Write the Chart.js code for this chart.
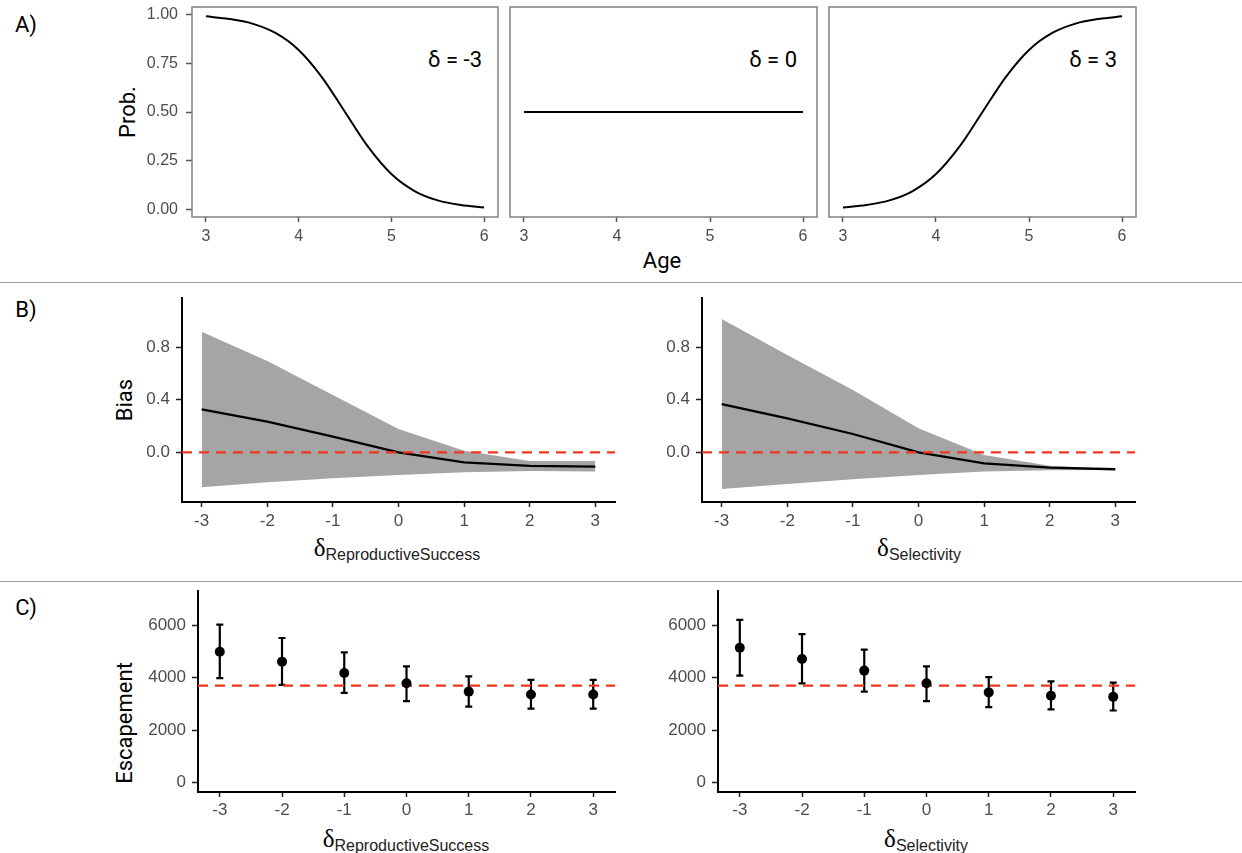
<!DOCTYPE html>
<html>
<head>
<meta charset="utf-8">
<script src="https://cdn.jsdelivr.net/npm/chart.js@4.4.0/dist/chart.umd.min.js"></script>
<style>
  body { margin: 0; width: 1242px; height: 853px; background: #fff; position: relative; overflow: hidden; font-family: Roboto, sans-serif; }
  canvas { position: absolute; }
  .lbl { position: absolute; color: #000; white-space: nowrap; line-height: 1; transform: translate(-50%, -50%); }
  .rot { transform: translate(-50%, -50%) rotate(-90deg); }
  .right { transform: translate(-100%, -50%); }
  .sep { position: absolute; left: 0; width: 1242px; height: 0; border-top: 1.5px solid #9a9a9a; }
  .d { font-family: "Liberation Serif", serif; font-size: 25px; }
  .sub { font-family: "Liberation Sans", sans-serif; font-size: 16px; position: relative; top: 4px; color: #222; }
</style>
</head>
<body>
<div class="sep" style="top:282px"></div>
<div class="sep" style="top:581px"></div>

<div class="lbl" style="left:26px;top:25px;font-size:22px">A)</div>
<div class="lbl" style="left:26px;top:310px;font-size:22px">B)</div>
<div class="lbl" style="left:26px;top:608px;font-size:22px">C)</div>

<div class="lbl rot" style="left:128px;top:112px;font-size:22px">Prob.</div>
<div class="lbl" style="left:662px;top:261px;font-size:22px">Age</div>
<div class="lbl right" style="left:482px;top:60px;font-size:22px">δ = -3</div>
<div class="lbl right" style="left:797px;top:60px;font-size:22px">δ = 0</div>
<div class="lbl right" style="left:1117px;top:60px;font-size:22px">δ = 3</div>

<div class="lbl rot" style="left:125px;top:400px;font-size:22px">Bias</div>
<div class="lbl" style="left:397px;top:547px"><span class="d">δ</span><span class="sub">ReproductiveSuccess</span></div>
<div class="lbl" style="left:919px;top:547px"><span class="d">δ</span><span class="sub">Selectivity</span></div>

<div class="lbl rot" style="left:125px;top:723px;font-size:22px">Escapement</div>
<div class="lbl" style="left:406px;top:838px"><span class="d">δ</span><span class="sub">ReproductiveSuccess</span></div>
<div class="lbl" style="left:926px;top:838px"><span class="d">δ</span><span class="sub">Selectivity</span></div>

<script>
// A) selection probability by age
const ages = [3, 3.25, 3.5, 3.75, 4, 4.25, 4.5, 4.75, 5, 5.25, 5.5, 5.75, 6];
const probNeg = [0.99, 0.977, 0.953, 0.905, 0.818, 0.679, 0.5, 0.321, 0.182, 0.095, 0.047, 0.023, 0.011];
const probZero = [0.5, 0.5, 0.5, 0.5, 0.5, 0.5, 0.5, 0.5, 0.5, 0.5, 0.5, 0.5, 0.5];
const probPos = [0.011, 0.023, 0.047, 0.095, 0.182, 0.321, 0.5, 0.679, 0.818, 0.905, 0.953, 0.977, 0.99];
const ageTicks = [3, 4, 5, 6];
const probTicks = [0, 0.25, 0.5, 0.75, 1];

// B) bias
const deltas = [-3, -2, -1, 0, 1, 2, 3];
const biasRS = [0.327, 0.233, 0.119, 0, -0.076, -0.104, -0.109];
const biasRSHi = [0.917, 0.694, 0.435, 0.177, 0.012, -0.066, -0.066];
const biasRSLo = [-0.266, -0.228, -0.198, -0.172, -0.152, -0.142, -0.147];
const biasSel = [0.367, 0.258, 0.139, 0, -0.084, -0.117, -0.129];
const biasSelHi = [1.013, 0.739, 0.473, 0.182, -0.021, -0.102, -0.129];
const biasSelLo = [-0.279, -0.241, -0.205, -0.172, -0.147, -0.137, -0.134];
const biasTicks = [0, 0.4, 0.8];
const biasRef = 0;

// C) escapement
const escRS = [4990, 4610, 4180, 3790, 3470, 3360, 3360];
const escRSHi = [6020, 5510, 4960, 4430, 4050, 3920, 3920];
const escRSLo = [3980, 3730, 3420, 3110, 2900, 2820, 2820];
const escSel = [5140, 4710, 4270, 3790, 3440, 3310, 3270];
const escSelHi = [6200, 5660, 5070, 4430, 4020, 3860, 3810];
const escSelLo = [4080, 3780, 3470, 3110, 2880, 2790, 2750];
const escTicks = [0, 2000, 4000, 6000];
const escRef = 3700;

const tickFontA = { family: 'Liberation Sans', size: 16 };
const tickFont = { family: 'Liberation Sans', size: 17 };
const tickGray = '#4d4d4d';
const red = '#f2361c';

function pts(xs, ys) {
  return xs.map((x, i) => ({ x: x, y: ys[i] }));
}

function axis(range, ticks, o) {
  return {
    type: 'linear',
    display: o.display !== false,
    min: range[0],
    max: range[1],
    afterBuildTicks: s => { s.ticks = ticks.map(v => ({ value: v })); },
    ticks: { font: o.font || tickFont, color: tickGray, padding: o.pad, callback: o.fmt || (v => String(v)), maxRotation: 0, autoSkip: false },
    grid: { display: true, drawOnChartArea: false, drawTicks: true, tickLength: o.tickLen, tickColor: o.tickColor, tickWidth: o.tickWidth },
    border: { display: o.border, color: '#000', width: 2 },
    afterFit: s => {
      if (o.horiz) s.height = o.size; else s.width = o.size;
      s.paddingTop = 0; s.paddingBottom = 0; s.paddingLeft = 0; s.paddingRight = 0;
    }
  };
}

// area: plot rectangle in page pixels; yW / xH: space for the axes
function makeChart(area, yW, xH, pad, datasets, scales, plugins) {
  const c = document.createElement('canvas');
  c.width = area.R - area.L + yW + pad.l + pad.r;
  c.height = area.B - area.T + xH + pad.t;
  c.style.left = (area.L - yW - pad.l) + 'px';
  c.style.top = (area.T - pad.t) + 'px';
  document.body.appendChild(c);
  return new Chart(c, {
    type: 'line',
    data: { datasets: datasets },
    options: {
      responsive: false,
      animation: false,
      devicePixelRatio: 1,
      layout: { padding: { left: pad.l, right: pad.r, top: pad.t, bottom: 0 } },
      plugins: { legend: { display: false }, tooltip: { enabled: false } },
      scales: scales
    },
    plugins: plugins || []
  });
}

const boxPlugin = {
  id: 'panelBox',
  afterDraw(chart) {
    const a = chart.chartArea, ctx = chart.ctx;
    ctx.save();
    ctx.strokeStyle = '#808080';
    ctx.lineWidth = 1.5;
    ctx.strokeRect(a.left, a.top, a.right - a.left, a.bottom - a.top);
    ctx.restore();
  }
};

function errorBars(xs, lo, hi) {
  return {
    id: 'errorBars',
    beforeDatasetsDraw(chart) {
      const sx = chart.scales.x, sy = chart.scales.y, ctx = chart.ctx;
      ctx.save();
      ctx.strokeStyle = '#000';
      ctx.lineWidth = 2.2;
      xs.forEach((v, i) => {
        const px = sx.getPixelForValue(v);
        const top = sy.getPixelForValue(hi[i]);
        const bot = sy.getPixelForValue(lo[i]);
        ctx.beginPath();
        ctx.moveTo(px, top); ctx.lineTo(px, bot);
        ctx.moveTo(px - 3.5, top); ctx.lineTo(px + 3.5, top);
        ctx.moveTo(px - 3.5, bot); ctx.lineTo(px + 3.5, bot);
        ctx.stroke();
      });
      ctx.restore();
    }
  };
}

// ---- panel A ----
const ageRange = [2.85, 6.15];
const probRange = [-0.038, 1.038];
const aX = axis(ageRange, ageTicks, { font: tickFontA, horiz: true, size: 40, pad: 5, tickLen: 5, tickColor: '#555', tickWidth: 1.5, border: false });

function curve(ys) {
  return {
    data: pts(ages, ys), borderColor: '#000', borderWidth: 2, pointRadius: 0,
    cubicInterpolationMode: 'monotone', fill: false
  };
}

makeChart({ L: 192, T: 7, R: 498, B: 217 }, 70, 40, { l: 0, r: 6, t: 4 },
  [curve(probNeg)],
  {
    x: aX,
    y: axis(probRange, probTicks, { font: tickFontA, size: 70, pad: 8, tickLen: 6, tickColor: '#555', tickWidth: 1.5, border: false, fmt: v => v.toFixed(2) })
  }, [boxPlugin]);

makeChart({ L: 510, T: 7, R: 817, B: 217 }, 0, 40, { l: 4, r: 6, t: 4 },
  [curve(probZero)],
  { x: aX, y: axis(probRange, probTicks, { display: false, size: 0, pad: 0, tickLen: 0, border: false }) },
  [boxPlugin]);

makeChart({ L: 829, T: 7, R: 1136, B: 217 }, 0, 40, { l: 4, r: 6, t: 4 },
  [curve(probPos)],
  { x: aX, y: axis(probRange, probTicks, { display: false, size: 0, pad: 0, tickLen: 0, border: false }) },
  [boxPlugin]);

// ---- panel B ----
const deltaRangeB = [-3.3, 3.3];
const biasRange = [-0.378, 1.173];

function biasSets(mean, lo, hi) {
  return [
    { data: pts(deltas, hi), borderColor: 'rgba(0,0,0,0)', borderWidth: 0, pointRadius: 0, tension: 0,
      fill: '+1', backgroundColor: '#a5a5a5', order: 3 },
    { data: pts(deltas, lo), borderColor: 'rgba(0,0,0,0)', borderWidth: 0, pointRadius: 0, tension: 0, fill: false, order: 2 },
    { data: pts(deltas, mean), borderColor: '#000', borderWidth: 2.3, pointRadius: 0, tension: 0, fill: false, order: 1 },
    { data: pts(deltaRangeB, [biasRef, biasRef]), borderColor: red, borderWidth: 2.2, borderDash: [10, 7],
      pointRadius: 0, fill: false, order: 0 }
  ];
}

function bScales() {
  return {
    x: axis(deltaRangeB, deltas, { horiz: true, size: 40, pad: 4, tickLen: 5, tickColor: '#222', tickWidth: 1.5, border: true }),
    y: axis(biasRange, biasTicks, { size: 70, pad: 6, tickLen: 6, tickColor: '#222', tickWidth: 1.5, border: true, fmt: v => v.toFixed(1) })
  };
}

makeChart({ L: 182, T: 298, R: 615, B: 502 }, 70, 40, { l: 0, r: 6, t: 4 }, biasSets(biasRS, biasRSLo, biasRSHi), bScales());
makeChart({ L: 702, T: 298, R: 1135, B: 502 }, 70, 40, { l: 0, r: 6, t: 4 }, biasSets(biasSel, biasSelLo, biasSelHi), bScales());

// ---- panel C ----
const deltaRangeC = [-3.35, 3.35];
const escRange = [-352, 7300];

function escSets(mean) {
  return [
    { data: pts(deltas, mean), showLine: false, pointRadius: 5, pointBackgroundColor: '#000',
      pointBorderWidth: 0, borderColor: '#000', order: 0 },
    { data: pts(deltaRangeC, [escRef, escRef]), borderColor: red, borderWidth: 2.2, borderDash: [10, 7],
      pointRadius: 0, fill: false, order: 1 }
  ];
}

function cScales() {
  return {
    x: axis(deltaRangeC, deltas, { horiz: true, size: 40, pad: 3, tickLen: 5, tickColor: '#222', tickWidth: 1.5, border: true }),
    y: axis(escRange, escTicks, { size: 70, pad: 6, tickLen: 6, tickColor: '#222', tickWidth: 1.5, border: true })
  };
}

makeChart({ L: 198, T: 590, R: 615, B: 792 }, 70, 40, { l: 0, r: 6, t: 4 }, escSets(escRS), cScales(),
  [errorBars(deltas, escRSLo, escRSHi)]);
makeChart({ L: 718, T: 590, R: 1135, B: 792 }, 70, 40, { l: 0, r: 6, t: 4 }, escSets(escSel), cScales(),
  [errorBars(deltas, escSelLo, escSelHi)]);
</script>
</body>
</html>
